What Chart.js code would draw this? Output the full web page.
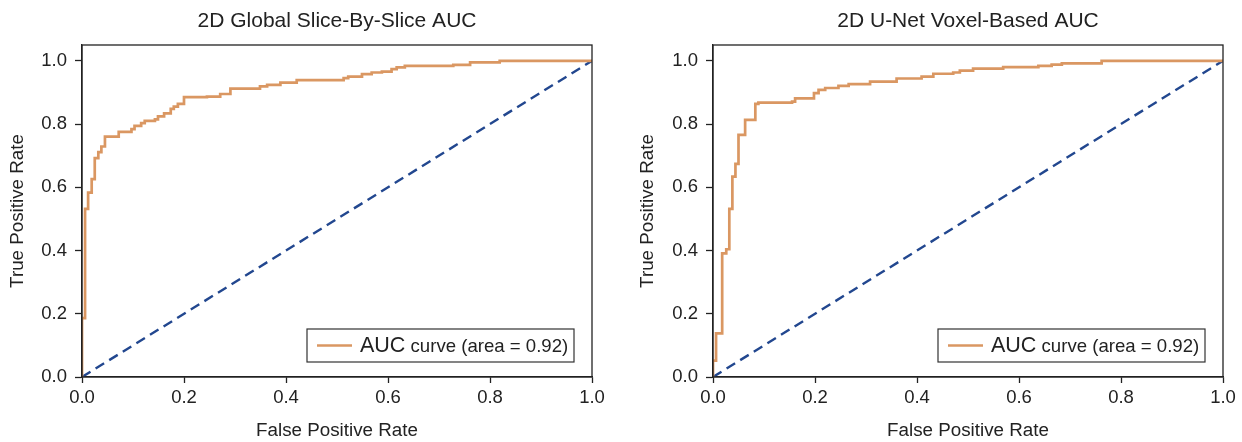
<!DOCTYPE html>
<html>
<head>
<meta charset="utf-8">
<script src="https://cdn.jsdelivr.net/npm/chart.js@4.4.1/dist/chart.umd.min.js"></script>
<style>
  html, body { margin: 0; padding: 0; background: #fff; }
  .wrap { position: absolute; top: 0; width: 621px; height: 442px; }
</style>
</head>
<body>
<div class="wrap" style="left:0"><canvas id="leftChart" width="621" height="442"></canvas></div>
<div class="wrap" style="left:621px"><canvas id="rightChart" width="621" height="442"></canvas></div>
<script>
// ROC curves
var leftFpr = [0, 0, 0.006, 0.012, 0.019, 0.025, 0.032, 0.038, 0.045, 0.072, 0.097, 0.103, 0.116, 0.123, 0.143, 0.149, 0.161, 0.174, 0.180, 0.188, 0.200, 0.245, 0.271, 0.291, 0.349, 0.363, 0.389, 0.421, 0.513, 0.522, 0.549, 0.568, 0.588, 0.607, 0.617, 0.633, 0.728, 0.761, 0.819, 1.0];
var leftTpr = [0, 0.186, 0.532, 0.583, 0.626, 0.692, 0.711, 0.729, 0.760, 0.775, 0.784, 0.794, 0.803, 0.810, 0.815, 0.824, 0.834, 0.848, 0.855, 0.864, 0.885, 0.887, 0.895, 0.912, 0.919, 0.924, 0.931, 0.939, 0.945, 0.950, 0.958, 0.963, 0.966, 0.974, 0.979, 0.984, 0.987, 0.995, 1.0, 1.0];

var rightFpr = [0, 0, 0.006, 0.018, 0.026, 0.032, 0.038, 0.044, 0.050, 0.063, 0.083, 0.089, 0.155, 0.161, 0.198, 0.207, 0.220, 0.246, 0.266, 0.308, 0.360, 0.409, 0.432, 0.471, 0.484, 0.510, 0.569, 0.638, 0.664, 0.684, 0.762, 1.0];
var rightTpr = [0, 0.052, 0.138, 0.391, 0.404, 0.532, 0.634, 0.674, 0.766, 0.813, 0.864, 0.868, 0.871, 0.881, 0.898, 0.908, 0.914, 0.921, 0.926, 0.934, 0.944, 0.950, 0.959, 0.963, 0.969, 0.975, 0.980, 0.984, 0.988, 0.992, 1.0, 1.0];

var chanceFpr = [0, 1];
var chanceTpr = [0, 1];

var tickValues = [0, 0.2, 0.4, 0.6, 0.8, 1.0];
var legendLabel = "AUC curve (area = 0.92)";

var orange = "#DA9762";
var navy = "#22478F";
var ink = "#222";
var fontFamily = "'Liberation Sans', Arial, Helvetica, sans-serif";

function toPoints(xs, ys) {
    return xs.map(function (x, i) { return { x: x, y: ys[i] }; });
}

// frame around the plot + legend box with the big "AUC"
var framePlugin = {
    id: "frameLegend",
    afterDraw: function (chart) {
        var ctx = chart.ctx;
        var a = chart.chartArea;
        ctx.save();
        ctx.strokeStyle = ink;
        ctx.lineWidth = 1.3;
        ctx.strokeRect(a.left, a.top, a.right - a.left, a.bottom - a.top);

        var w = 267, h = 33;
        var bx = a.right - 18 - w, by = a.bottom - 15 - h;
        ctx.lineWidth = 1.2;
        ctx.strokeStyle = "#333";
        ctx.strokeRect(bx, by, w, h);

        ctx.strokeStyle = orange;
        ctx.lineWidth = 2.7;
        ctx.beginPath();
        ctx.moveTo(bx + 10, by + h / 2);
        ctx.lineTo(bx + 45, by + h / 2);
        ctx.stroke();

        var first = legendLabel.split(" ")[0];
        var rest = legendLabel.slice(first.length);
        ctx.fillStyle = ink;
        ctx.textBaseline = "middle";
        ctx.font = "21.5px " + fontFamily;
        ctx.fillText(first, bx + 53, by + h / 2 + 1);
        var fw = ctx.measureText(first).width;
        ctx.font = "18.6px " + fontFamily;
        ctx.fillText(rest, bx + 53 + fw, by + h / 2 + 1);
        ctx.restore();
    }
};

function makeRoc(id, title, fpr, tpr, yWidth, yTitlePad, padRight) {
    return new Chart(id, {
        type: "line",
        data: {
            datasets: [{
                label: legendLabel,
                data: toPoints(fpr, tpr),
                borderColor: orange,
                borderWidth: 2.7,
                stepped: "before",
                pointRadius: 0,
                fill: false
            }, {
                label: "chance",
                data: toPoints(chanceFpr, chanceTpr),
                borderColor: navy,
                borderWidth: 2.4,
                borderDash: [10, 6],
                pointRadius: 0,
                fill: false
            }]
        },
        options: {
            responsive: false,
            animation: false,
            layout: { padding: { left: 0, right: padRight, top: 0, bottom: 0 } },
            plugins: {
                legend: { display: false },
                tooltip: { enabled: false },
                title: {
                    display: true,
                    text: title,
                    fullSize: false,
                    color: ink,
                    font: { family: fontFamily, size: 21, weight: "normal" },
                    padding: { top: 8.5, bottom: 11.3 }
                }
            },
            scales: {
                x: {
                    type: "linear",
                    min: 0,
                    max: 1,
                    afterBuildTicks: function (s) { s.ticks = tickValues.map(function (v) { return { value: v }; }); },
                    afterFit: function (s) { s.height = 65; },
                    grid: { drawOnChartArea: false, drawTicks: true, tickLength: 6, tickColor: ink, tickWidth: 1.3 },
                    border: { display: true, color: ink, width: 1.3 },
                    ticks: {
                        color: ink,
                        padding: 4,
                        maxRotation: 0,
                        font: { family: fontFamily, size: 18.5 },
                        callback: function (v) { return v.toFixed(1); }
                    },
                    title: {
                        display: true,
                        text: "False Positive Rate",
                        color: ink,
                        font: { family: fontFamily, size: 18.8 },
                        padding: { top: 0, bottom: 0 }
                    }
                },
                y: {
                    type: "linear",
                    min: 0,
                    max: 1.05,
                    afterBuildTicks: function (s) { s.ticks = tickValues.map(function (v) { return { value: v }; }); },
                    afterFit: function (s) { s.width = yWidth; },
                    grid: { drawOnChartArea: false, drawTicks: true, tickLength: 7, tickColor: ink, tickWidth: 1.3 },
                    border: { display: true, color: ink, width: 1.3 },
                    ticks: {
                        color: ink,
                        padding: 8,
                        font: { family: fontFamily, size: 18.5 },
                        callback: function (v) { return v.toFixed(1); }
                    },
                    title: {
                        display: true,
                        text: "True Positive Rate",
                        color: ink,
                        font: { family: fontFamily, size: 18.8 },
                        padding: { top: yTitlePad, bottom: 0 }
                    }
                }
            }
        },
        plugins: [framePlugin]
    });
}

makeRoc("leftChart", "2D Global Slice-By-Slice AUC", leftFpr, leftTpr, 82, 6.2, 29);
makeRoc("rightChart", "2D U-Net Voxel-Based AUC", rightFpr, rightTpr, 92, 15.2, 19);
</script>
</body>
</html>
